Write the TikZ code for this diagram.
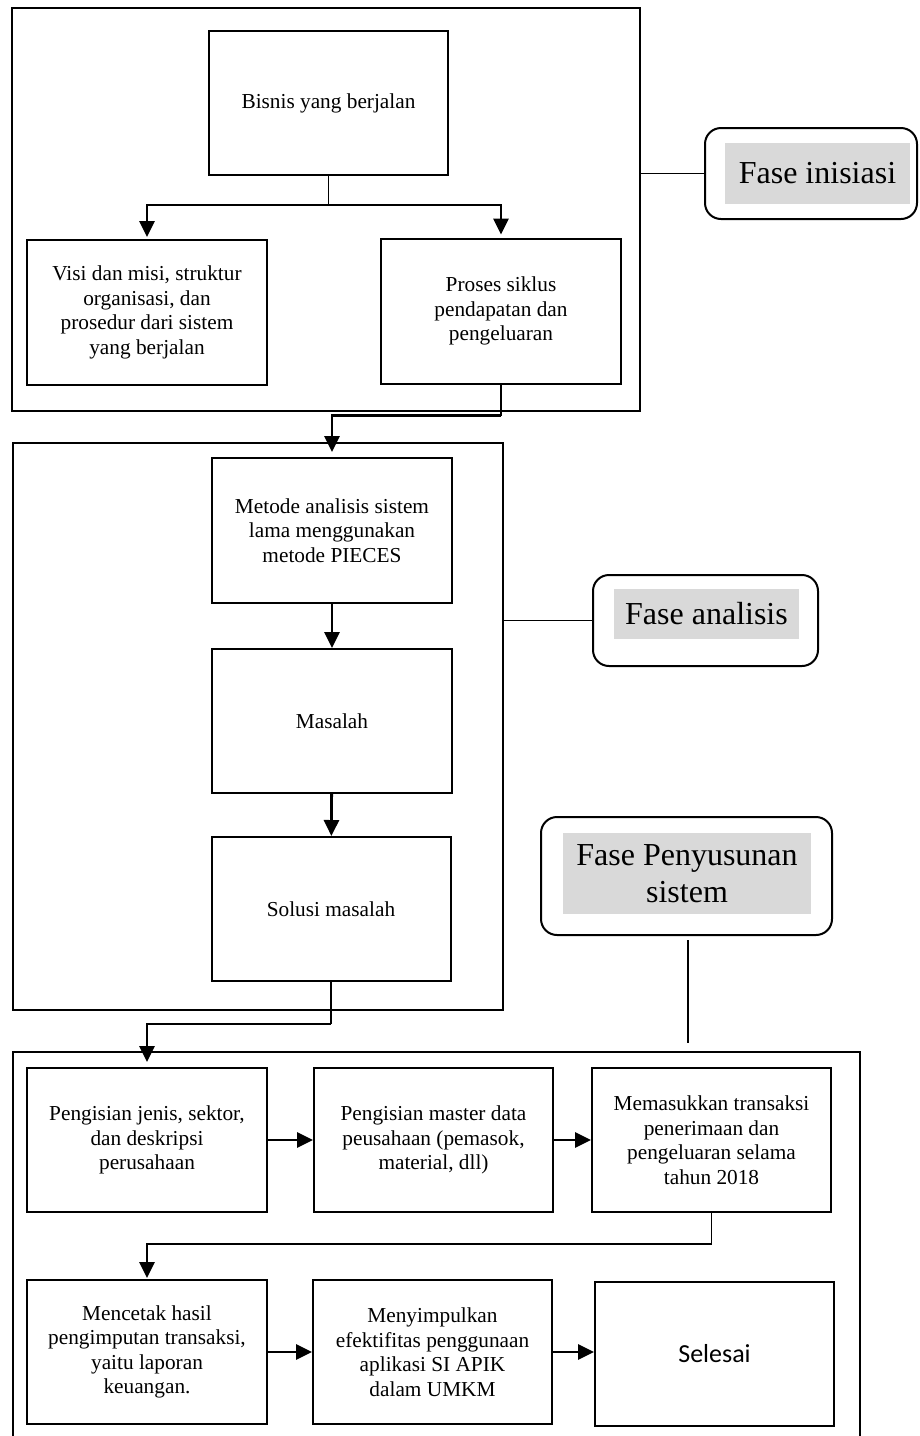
\documentclass[tikz,border=0pt]{standalone}
\usepackage{fontspec}
\setmainfont{Liberation Serif}
\newfontfamily\calibrifont{Carlito}
\usetikzlibrary{arrows.meta}
\definecolor{fasegray}{HTML}{D9D9D9}

\tikzset{
  box/.style = {draw, line width=2pt, minimum width=240pt, minimum height=145pt,
                inner sep=0pt, align=center, font=\fontsize{21.3}{24.5}\selectfont},
  frame/.style = {draw, line width=2pt, inner sep=0pt},
  fase/.style = {draw, line width=2pt, rounded corners=16pt, inner sep=0pt},
  faselabel/.style = {fill=fasegray, inner sep=0pt, align=center,
                      font=\fontsize{32}{37}\selectfont},
  arr/.style = {line width=2.8pt, -{Triangle[width=15pt,length=16pt]}},
  stem/.style = {line width=1.5pt}
}

\begin{document}
\begin{tikzpicture}[x=1pt, y=-1pt]
\useasboundingbox (0,0) rectangle (919,1436);

% the three large frames
\node[frame, minimum width=628pt, minimum height=403pt] (frInisiasi) at (326,209.5) {};
\node[frame, minimum width=490pt, minimum height=567pt] (frAnalisis) at (258,726.5) {};
\begin{scope}
\clip (0,0) rectangle (919,1436);
\node[frame, minimum width=847pt, minimum height=408pt] (frPenyusunan) at (436.5,1256) {};
\end{scope}

% fase inisiasi
\node[box, minimum width=239pt, minimum height=144pt] (bisnis) at (328.5,103) {Bisnis yang berjalan};
\node[box] (visi) at (147,312.5) {Visi dan misi, struktur\\ organisasi, dan\\ prosedur dari sistem\\ yang berjalan};
\node[box] (proses) at (501,311) {Proses siklus\\ pendapatan dan\\ pengeluaran};

\draw[stem] (bisnis.south) -- ++(0,29) coordinate (split);
\draw[arr, shorten >=2pt] (split) -| (visi.north);
\draw[arr, shorten >=3pt] (split) -| (proses.north);

% fase analisis
\node[box] (metode) at (332,530.5) {Metode analisis sistem\\ lama menggunakan\\ metode PIECES};
\node[box, minimum height=144pt] (masalah) at (332,721) {Masalah};
\node[box, minimum width=239pt, minimum height=144pt] (solusi) at (331,909) {Solusi masalah};

\draw[stem] (proses.south) -- ++(0,31) coordinate (joinA);
\draw[arr, shorten >=5pt] (joinA) -| (metode.north);
\draw[arr] (metode) -- (masalah);
\draw[arr] (masalah) -- (solusi);

% fase penyusunan sistem
\node[box, minimum height=144pt] (pengisian) at (147,1140) {Pengisian jenis, sektor,\\ dan deskripsi\\ perusahaan};
\node[box, minimum width=239pt, minimum height=144pt] (master) at (433.5,1140) {Pengisian master data\\ peusahaan (pemasok,\\ material, dll)};
\node[box, minimum width=239pt, minimum height=144pt] (transaksi) at (711.5,1140) {Memasukkan transaksi\\ penerimaan dan\\ pengeluaran selama\\ tahun 2018};
\node[box, minimum height=144pt] (mencetak) at (147,1352) {Mencetak hasil\\ pengimputan transaksi,\\ yaitu laporan\\ keuangan.};
\node[box, minimum width=239pt, minimum height=144pt] (simpulan) at (432.5,1352) {Menyimpulkan\\ efektifitas penggunaan\\ aplikasi SI APIK\\ dalam UMKM};
\node[box, minimum width=239pt, minimum height=144pt, font=\calibrifont\fontsize{26}{30}\selectfont] (selesai) at (714.5,1354) {Selesai};

\draw[stem] (solusi.south) -- ++(0,42) coordinate (joinB);
\draw[arr, shorten >=5pt] (joinB) -| (pengisian.north);
\draw[arr] (pengisian) -- (master);
\draw[arr] (master) -- (transaksi);
\draw[stem] (transaksi.south) -- ++(0,31) coordinate (joinC);
\draw[arr, shorten >=1pt] (joinC) -| (mencetak.north);
\draw[arr] (mencetak) -- (simpulan);
\draw[arr] (simpulan.east) -- (selesai.west |- simpulan.east);

% fase labels
\node[fase, minimum width=212pt, minimum height=91pt] (fsInisiasi) at (811,173.5) {};
\node[faselabel, minimum width=185pt, minimum height=61pt] (lbInisiasi) at (817.5,173.5) {Fase inisiasi};
\node[fase, minimum width=225pt, minimum height=91pt] (fsAnalisis) at (705.5,620.5) {};
\node[faselabel, minimum width=185pt, minimum height=50pt] (lbAnalisis) at (706.5,614) {Fase analisis};
\node[fase, minimum width=291pt, minimum height=118pt] (fsPenyusunan) at (686.5,876) {};
\node[faselabel, minimum width=248pt, minimum height=81pt] (lbPenyusunan) at (687,873.5) {Fase Penyusunan\\ sistem};

\draw[stem] (frInisiasi.east |- fsInisiasi.west) -- (fsInisiasi.west);
\draw[stem] (frAnalisis.east |- fsAnalisis.west) -- (fsAnalisis.west);
\coordinate (fsEnd) at (688,1043);
\draw[stem] ([yshift=-4pt]fsPenyusunan.south -| fsEnd) -- (fsEnd);
\end{tikzpicture}
\end{document}
